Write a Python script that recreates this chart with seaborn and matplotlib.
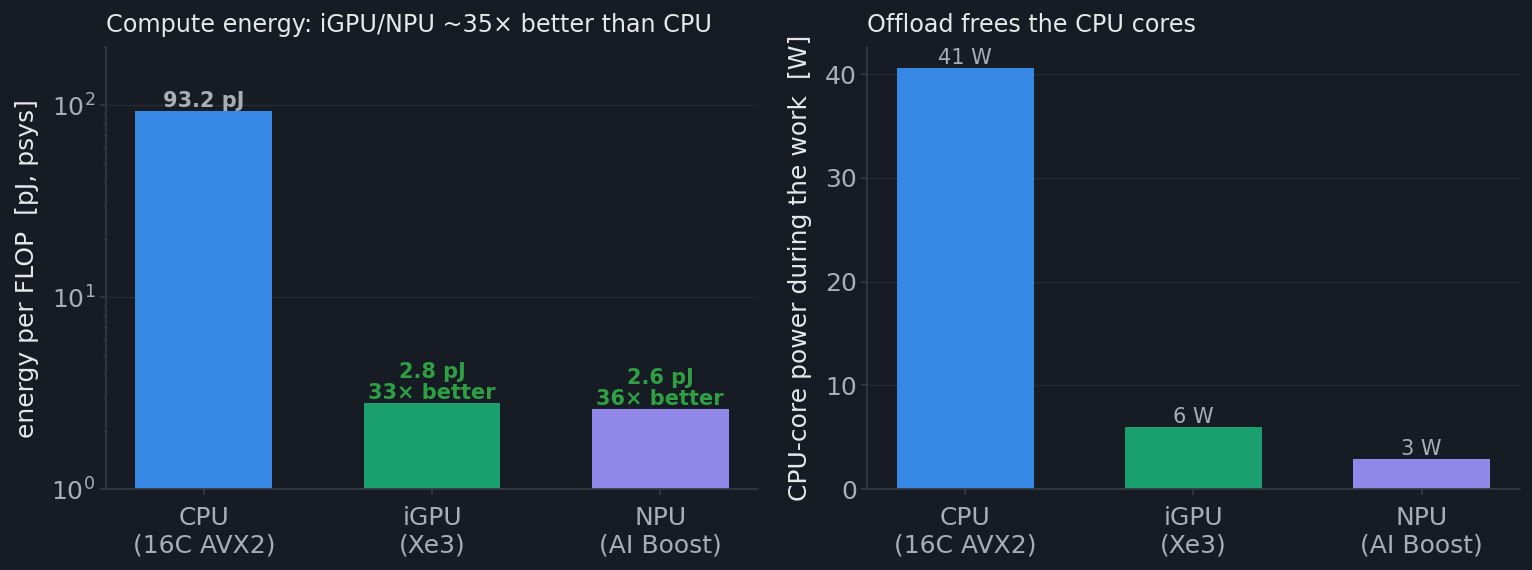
import matplotlib
matplotlib.use("Agg")
import matplotlib.pyplot as plt
from matplotlib.ticker import MultipleLocator
import seaborn as sns
import pandas as pd

# data
devices = ["CPU\n(16C AVX2)", "iGPU\n(Xe3)", "NPU\n(AI Boost)"]
energy_pj = [93.2, 2.8, 2.6]
core_power_w = [40.6, 5.94, 2.88]
power_labels = ["41 W", "6 W", "3 W"]
energy_labels = ["93.2 pJ", "2.8 pJ\n33× better", "2.6 pJ\n36× better"]

colors = ["#3788e5", "#1a9f6f", "#9087e8"]
bg = "#171b23"
grid_c = "#262a33"
spine_c = "#343842"
tick_c = "#a9aeb6"
text_c = "#e6e8eb"
green = "#2ea043"

sns.set_theme(style="dark")
plt.rcParams.update({
    "figure.facecolor": bg,
    "axes.facecolor": bg,
    "axes.edgecolor": spine_c,
    "xtick.color": tick_c,
    "ytick.color": tick_c,
    "axes.labelcolor": text_c,
    "text.color": text_c,
})
plt.rcParams["font.family"] = ["DejaVu Sans"]

df = pd.DataFrame({"device": devices, "energy": energy_pj, "power": core_power_w})

fig, (ax1, ax2) = plt.subplots(1, 2, figsize=(15.32, 5.7), dpi=100)
fig.subplots_adjust(left=0.069, right=0.992, top=0.917, bottom=0.142, wspace=0.167)

# left: energy per flop, log scale
sns.barplot(data=df, x="device", y="energy", hue="device", palette=colors,
            width=0.6, saturation=1, legend=False, linewidth=0, ax=ax1)
ax1.set_yscale("log")
ax1.set_ylim(1, 200)
ax1.set_xlim(-0.43, 2.43)
for i, (v, lab) in enumerate(zip(energy_pj, energy_labels)):
    c = tick_c if i == 0 else green
    ax1.text(i, v, lab, ha="center", va="bottom", fontsize=15,
             fontweight="bold", color=c, linespacing=1.1)
ax1.set_title("Compute energy: iGPU/NPU ~35× better than CPU", loc="left",
              fontsize=17.2, color=text_c, pad=11)
ax1.set_ylabel("energy per FLOP  [pJ, psys]", fontsize=18, labelpad=9)

# right: cpu-core power
sns.barplot(data=df, x="device", y="power", hue="device", palette=colors,
            width=0.6, saturation=1, legend=False, linewidth=0, ax=ax2)
ax2.set_ylim(0, 42.6)
ax2.set_xlim(-0.43, 2.43)
ax2.yaxis.set_major_locator(MultipleLocator(10))
for i, (v, lab) in enumerate(zip(core_power_w, power_labels)):
    ax2.text(i, v, lab, ha="center", va="bottom", fontsize=15, color=tick_c)
ax2.set_title("Offload frees the CPU cores", loc="left", fontsize=17.2,
              color=text_c, pad=11)
ax2.set_ylabel("CPU-core power during the work  [W]", fontsize=18, labelpad=9)

for ax in (ax1, ax2):
    ax.set_xlabel("")
    ax.grid(axis="y", which="major", color=grid_c, linewidth=1)
    ax.grid(axis="x", visible=False)
    ax.set_axisbelow(True)
    for s in ["top", "right"]:
        ax.spines[s].set_visible(False)
    ax.tick_params(axis="both", which="major", labelsize=18, length=4,
                   color=spine_c, left=True, bottom=True)
    ax.tick_params(axis="x", which="major", pad=8)
    ax.tick_params(axis="y", which="minor", length=2, color=spine_c, left=True)

fig.savefig("out.png", dpi=100, facecolor=bg)
